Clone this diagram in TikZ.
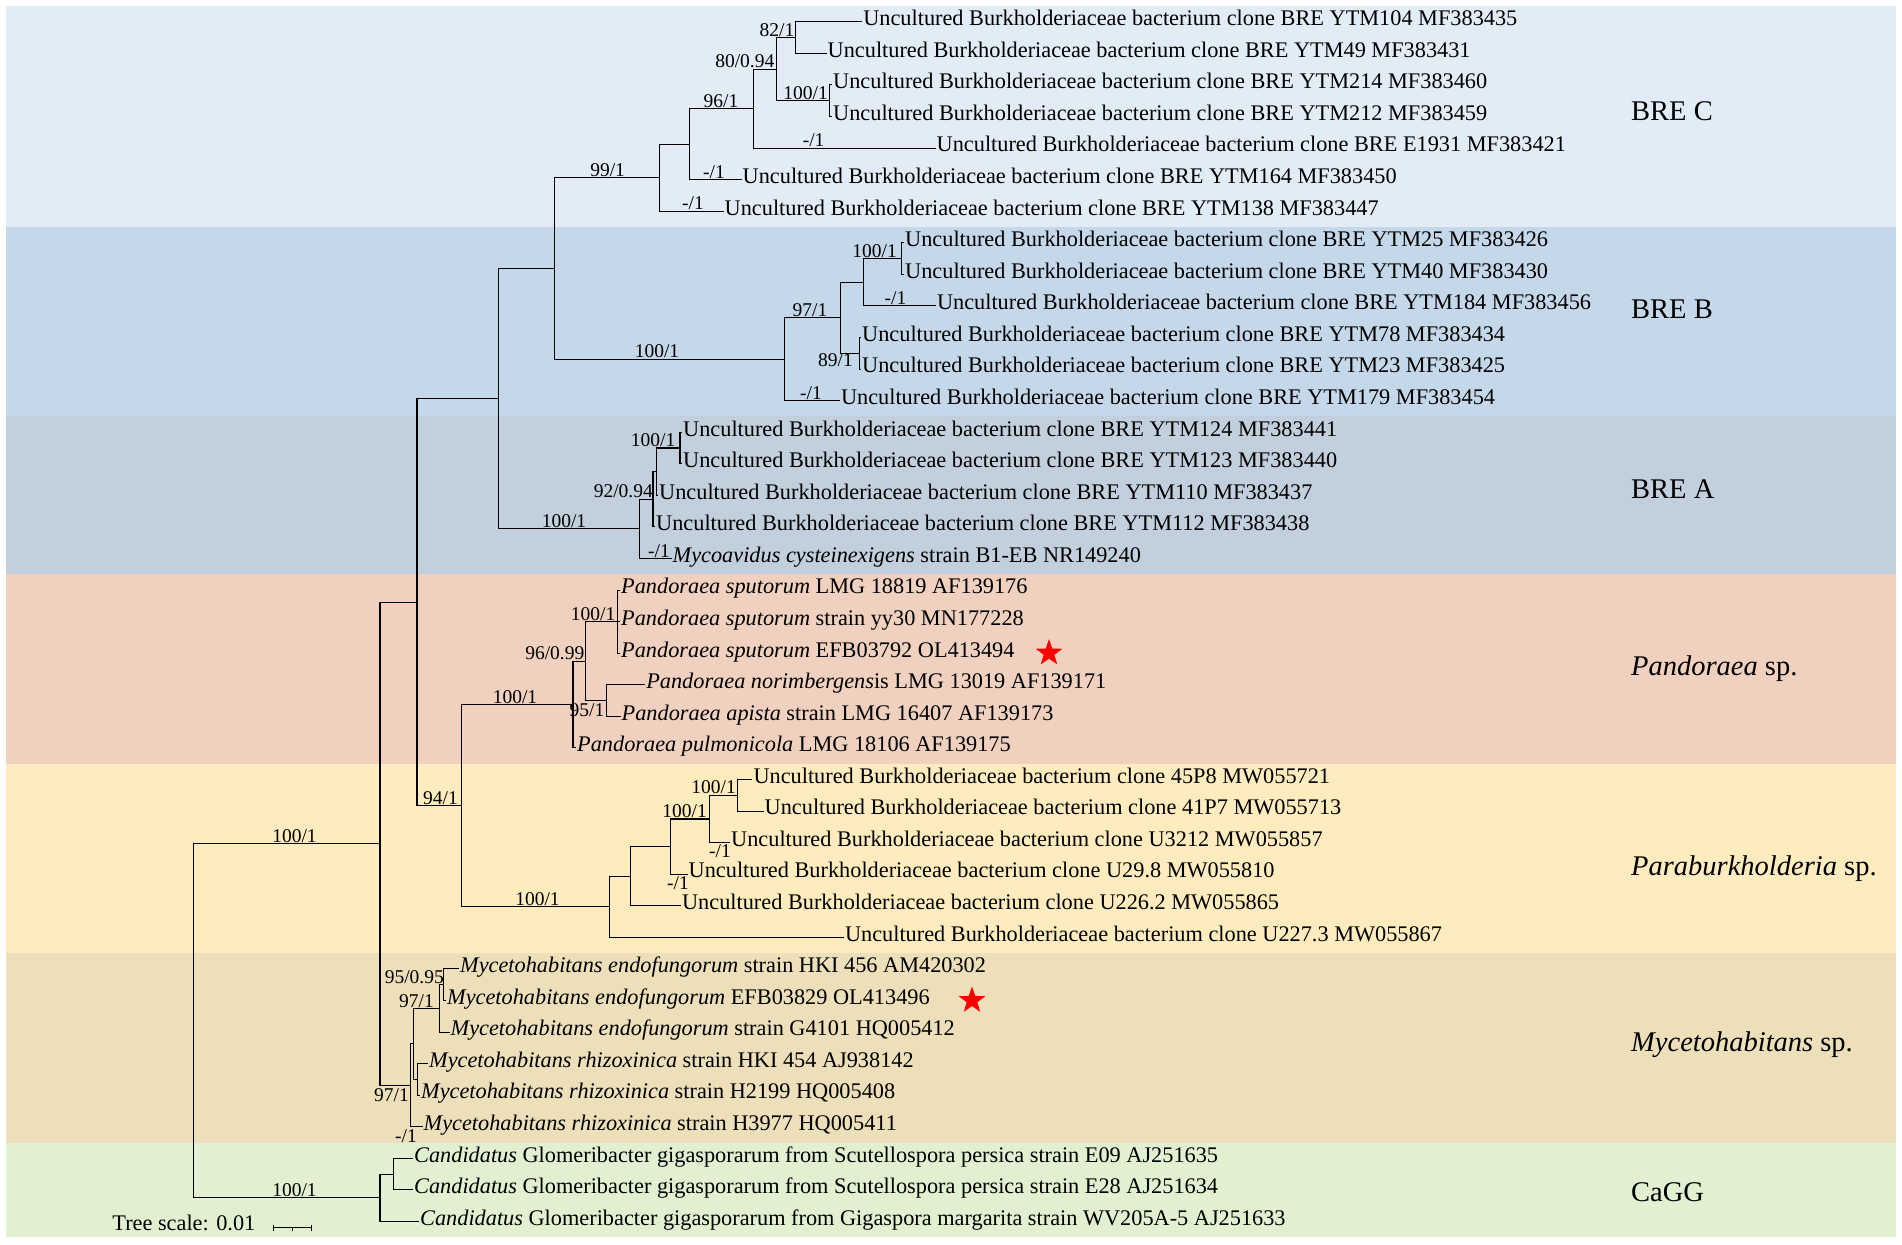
\documentclass[tikz,border=0pt]{standalone}
\usepackage{fontspec}
\setmainfont{Liberation Serif}
\usetikzlibrary{shapes.geometric}

\definecolor{bandC}{RGB}{226,236,246}
\definecolor{bandB}{RGB}{197,216,234}
\definecolor{bandA}{RGB}{194,207,220}
\definecolor{bandP}{RGB}{240,209,191}
\definecolor{bandPa}{RGB}{254,236,190}
\definecolor{bandM}{RGB}{237,223,186}
\definecolor{bandCa}{RGB}{224,240,208}

\begin{document}
\begin{tikzpicture}[x=1pt, y=-1pt,
  branch/.style={line width=1.1pt, line cap=rect},
  leaf/.style={anchor=mid west, inner sep=1.5pt, yshift=-1.5pt, font=\fontsize{22.3}{26}\selectfont},
  sup/.style={inner sep=1pt, font=\fontsize{19.5}{23}\selectfont},
  clade/.style={anchor=base west, inner sep=0pt, font=\fontsize{28.5}{34}\selectfont},
  mark star/.style={star, star points=5, star point ratio=2.5, fill=red, inner sep=0pt, minimum size=28pt}]

\useasboundingbox (0,0) rectangle (1902,1244);

% clade bands
\foreach \top/\bot/\col in {6/227/bandC, 227/416.4/bandB, 416.4/574.3/bandA, 574.3/763.8/bandP,
  763.8/953.1/bandPa, 953.1/1142.5/bandM, 1142.5/1237.2/bandCa}
  \fill[\col] (6,\top) rectangle (1896,\bot);

% leaf tips
\foreach \i/\tx in {0/861.6, 1/826, 2/831.5, 3/831.5, 4/935, 5/741, 6/723,
  7/903.5, 8/903.5, 9/935.3, 10/860.5, 11/860.5, 12/839.3,
  13/681.5, 14/681.5, 15/657.5, 16/654.5, 17/671,
  18/619.5, 19/619.5, 20/619.5, 21/644.6, 22/620, 23/575.5,
  24/751.8, 25/763, 26/729.5, 27/687, 28/680.4, 29/843.3,
  30/458.5, 31/445.5, 32/449, 33/427.5, 34/419.5, 35/422,
  36/412.5, 37/412.5, 38/418.5}
  \coordinate (l\i) at (\tx,{21.8+31.57*\i});

% inner nodes
\coordinate (root) at (193.3,1020.8);
\coordinate (nbig) at (380,843.7);
\coordinate (nCa) at (380,1197.8);
\coordinate (nCa2) at (393.3,1174.1);
\coordinate (nIn) at (417,602.1);
\coordinate (nABC) at (498.2,398.7);
\coordinate (nBC) at (554.5,268.5);
\coordinate (n99) at (659.8,177.7);
\coordinate (n96a) at (689.7,144.1);
\coordinate (nC3) at (753.6,108.6);
\coordinate (n80) at (776.8,69.2);
\coordinate (n82) at (795.5,37.6);
\coordinate (n100c) at (829.5,100.7);
\coordinate (nB) at (784.8,359.2);
\coordinate (n97) at (840.2,317.8);
\coordinate (nx) at (863.8,282.2);
\coordinate (n100b) at (901.8,258.6);
\coordinate (n89) at (859.4,353.3);
\coordinate (nA) at (639.7,528.9);
\coordinate (n92) at (653,499.3);
\coordinate (ny) at (656.3,471.7);
\coordinate (n100a) at (680,448);
\coordinate (n94) at (461.6,805.6);
\coordinate (nPand) at (573,704.5);
\coordinate (n96P) at (585.7,661.1);
\coordinate (n100P) at (617.9,621.6);
\coordinate (n95) at (606.7,700.6);
\coordinate (nPara) at (609.8,906.8);
\coordinate (nq) at (630.4,876.2);
\coordinate (nr) at (670.5,846.6);
\coordinate (n100p1) at (709.4,819);
\coordinate (n100p2) at (737.5,795.3);
\coordinate (nM) at (410.7,1085.3);
\coordinate (nMa) at (413.8,1043.9);
\coordinate (nE) at (439.3,1008.4);
\coordinate (nE2) at (443.8,984.7);
\coordinate (nR) at (417.5,1079.4);

% branches
\foreach \p/\c in {root/nbig, root/nCa, nCa/nCa2, nCa/l38, nCa2/l36, nCa2/l37,
  nbig/nIn, nbig/nM, nIn/nABC, nIn/n94, nABC/nBC, nABC/nA,
  nBC/n99, nBC/nB, n99/n96a, n99/l6, n96a/nC3, n96a/l5, nC3/n80, nC3/l4,
  n80/n82, n80/n100c, n82/l0, n82/l1, n100c/l2, n100c/l3,
  nB/n97, nB/l12, n97/nx, n97/n89, nx/n100b, nx/l9, n100b/l7, n100b/l8,
  n89/l10, n89/l11, nA/n92, nA/l17, n92/ny, n92/l16, ny/n100a, ny/l15,
  n100a/l13, n100a/l14, n94/nPand, n94/nPara, nPand/n96P, nPand/l23,
  n96P/n100P, n96P/n95, n100P/l18, n100P/l19, n100P/l20, n95/l21, n95/l22,
  nPara/nq, nPara/l29, nq/nr, nq/l28, nr/n100p1, nr/l27,
  n100p1/n100p2, n100p1/l26, n100p2/l24, n100p2/l25,
  nM/nMa, nM/l35, nMa/nE, nMa/nR, nE/nE2, nE/l32, nE2/l30, nE2/l31,
  nR/l33, nR/l34}
  \draw[branch] (\p) |- (\c);

% leaf names
\node[leaf] (t0) at (l0) {Uncultured Burkholderiaceae bacterium clone BRE YTM104 MF383435};
\node[leaf] (t1) at (l1) {Uncultured Burkholderiaceae bacterium clone BRE YTM49 MF383431};
\node[leaf] (t2) at (l2) {Uncultured Burkholderiaceae bacterium clone BRE YTM214 MF383460};
\node[leaf] (t3) at (l3) {Uncultured Burkholderiaceae bacterium clone BRE YTM212 MF383459};
\node[leaf] (t4) at (l4) {Uncultured Burkholderiaceae bacterium clone BRE E1931 MF383421};
\node[leaf] (t5) at (l5) {Uncultured Burkholderiaceae bacterium clone BRE YTM164 MF383450};
\node[leaf] (t6) at (l6) {Uncultured Burkholderiaceae bacterium clone BRE YTM138 MF383447};
\node[leaf] (t7) at (l7) {Uncultured Burkholderiaceae bacterium clone BRE YTM25 MF383426};
\node[leaf] (t8) at (l8) {Uncultured Burkholderiaceae bacterium clone BRE YTM40 MF383430};
\node[leaf] (t9) at (l9) {Uncultured Burkholderiaceae bacterium clone BRE YTM184 MF383456};
\node[leaf] (t10) at (l10) {Uncultured Burkholderiaceae bacterium clone BRE YTM78 MF383434};
\node[leaf] (t11) at (l11) {Uncultured Burkholderiaceae bacterium clone BRE YTM23 MF383425};
\node[leaf] (t12) at (l12) {Uncultured Burkholderiaceae bacterium clone BRE YTM179 MF383454};
\node[leaf] (t13) at (l13) {Uncultured Burkholderiaceae bacterium clone BRE YTM124 MF383441};
\node[leaf] (t14) at (l14) {Uncultured Burkholderiaceae bacterium clone BRE YTM123 MF383440};
\node[leaf] (t15) at (l15) {Uncultured Burkholderiaceae bacterium clone BRE YTM110 MF383437};
\node[leaf] (t16) at (l16) {Uncultured Burkholderiaceae bacterium clone BRE YTM112 MF383438};
\node[leaf] (t17) at (l17) {\textit{Mycoavidus cysteinexigens} strain B1-EB NR149240};
\node[leaf] (t18) at (l18) {\textit{Pandoraea sputorum} LMG 18819 AF139176};
\node[leaf] (t19) at (l19) {\textit{Pandoraea sputorum} strain yy30 MN177228};
\node[leaf] (t20) at (l20) {\textit{Pandoraea sputorum} EFB03792 OL413494};
\node[leaf] (t21) at (l21) {\textit{Pandoraea norimbergens}is LMG 13019 AF139171};
\node[leaf] (t22) at (l22) {\textit{Pandoraea apista} strain LMG 16407 AF139173};
\node[leaf] (t23) at (l23) {\textit{Pandoraea pulmonicola} LMG 18106 AF139175};
\node[leaf] (t24) at (l24) {Uncultured Burkholderiaceae bacterium clone 45P8 MW055721};
\node[leaf] (t25) at (l25) {Uncultured Burkholderiaceae bacterium clone 41P7 MW055713};
\node[leaf] (t26) at (l26) {Uncultured Burkholderiaceae bacterium clone U3212 MW055857};
\node[leaf] (t27) at (l27) {Uncultured Burkholderiaceae bacterium clone U29.8 MW055810};
\node[leaf] (t28) at (l28) {Uncultured Burkholderiaceae bacterium clone U226.2 MW055865};
\node[leaf] (t29) at (l29) {Uncultured Burkholderiaceae bacterium clone U227.3 MW055867};
\node[leaf] (t30) at (l30) {\textit{Mycetohabitans endofungorum} strain HKI 456 AM420302};
\node[leaf] (t31) at (l31) {\textit{Mycetohabitans endofungorum} EFB03829 OL413496};
\node[leaf] (t32) at (l32) {\textit{Mycetohabitans endofungorum} strain G4101 HQ005412};
\node[leaf] (t33) at (l33) {\textit{Mycetohabitans rhizoxinica} strain HKI 454 AJ938142};
\node[leaf] (t34) at (l34) {\textit{Mycetohabitans rhizoxinica} strain H2199 HQ005408};
\node[leaf] (t35) at (l35) {\textit{Mycetohabitans rhizoxinica} strain H3977 HQ005411};
\node[leaf] (t36) at (l36) {\textit{Candidatus} Glomeribacter gigasporarum from Scutellospora persica strain E09 AJ251635};
\node[leaf] (t37) at (l37) {\textit{Candidatus} Glomeribacter gigasporarum from Scutellospora persica strain E28 AJ251634};
\node[leaf] (t38) at (l38) {\textit{Candidatus} Glomeribacter gigasporarum from Gigaspora margarita strain WV205A-5 AJ251633};

% support values
\node[sup, anchor=south] (s1) at (607.6,177.7) {99/1};
\node[sup, anchor=south] (s2) at (721,108.6) {96/1};
\node[sup, anchor=south east] (s3) at (775.5,69.2) {80/0.94};
\node[sup, anchor=south east] (s4) at (795.5,37.6) {82/1};
\node[sup, anchor=south east] (s5) at (829,100.7) {100/1};
\node[sup, anchor=south] (s6) at (813.6,148.1) {-/1};
\node[sup, anchor=south] (s7) at (714,179.6) {-/1};
\node[sup, anchor=south] (s8) at (693,211.2) {-/1};
\node[sup, anchor=south] (s9) at (657,359.2) {100/1};
\node[sup, anchor=south] (s10) at (810,317.8) {97/1};
\node[sup, anchor=south east] (s11) at (898,258.6) {100/1};
\node[sup, anchor=south] (s12) at (895.5,305.9) {-/1};
\node[sup, anchor=north east] (s13) at (854,352) {89/1};
\node[sup, anchor=south] (s14) at (811,400.6) {-/1};
\node[sup, anchor=south] (s15) at (564,528.9) {100/1};
\node[sup, anchor=south east] (s16) at (654,499.3) {92/0.94};
\node[sup, anchor=south east] (s17) at (676.5,448) {100/1};
\node[sup, anchor=south] (s18) at (659,558.5) {-/1};
\node[sup, anchor=south] (s19) at (515,704.5) {100/1};
\node[sup, anchor=south east] (s20) at (585.5,661.1) {96/0.99};
\node[sup, anchor=south east] (s21) at (616.5,621.6) {100/1};
\node[sup, anchor=north east] (s22) at (605.5,702) {95/1};
\node[sup, anchor=south] (s23) at (440.5,805.6) {94/1};
\node[sup, anchor=south] (s24) at (537.5,906.8) {100/1};
\node[sup, anchor=south east] (s25) at (708,819) {100/1};
\node[sup, anchor=south east] (s26) at (737,795.3) {100/1};
\node[sup, anchor=north] (s27) at (720,843.5) {-/1};
\node[sup, anchor=north] (s28) at (678,875) {-/1};
\node[sup, anchor=south east] (s29) at (445,984.7) {95/0.95};
\node[sup, anchor=south east] (s30) at (435,1008.4) {97/1};
\node[sup, anchor=north east] (s31) at (410,1087) {97/1};
\node[sup, anchor=north east] (s32) at (418,1128) {-/1};
\node[sup, anchor=south] (s33) at (294.5,843.7) {100/1};
\node[sup, anchor=south] (s34) at (294.5,1197.8) {100/1};

% our isolates
\node[mark star] (star1) at (1049,653.1) {};
\node[mark star] (star2) at (972,1000.5) {};

% clade names
\node[clade] (cC) at (1631,121) {BRE C};
\node[clade] (cB) at (1631,318.5) {BRE B};
\node[clade] (cA) at (1631,498.5) {BRE A};
\node[clade] (cP) at (1631,675.5) {\textit{Pandoraea} sp.};
\node[clade] (cPa) at (1631,875.5) {\textit{Paraburkholderia} sp.};
\node[clade] (cM) at (1631,1051.5) {\textit{Mycetohabitans} sp.};
\node[clade] (cCa) at (1631,1201.5) {CaGG};

% scale bar
\coordinate (sb1) at (273,1227.7);
\coordinate (sb2) at (311.7,1227.7);
\coordinate (sbm) at (292.4,1227.7);
\draw[line width=0.9pt] (sb1) -- (sb2);
\draw[line width=0.9pt] (sb1) ++(0,-3) -- ++(0,6);
\draw[line width=0.9pt] (sb2) ++(0,-3) -- ++(0,6);
\draw[line width=0.9pt] (sbm) -- ++(0,3);
\node[leaf, anchor=mid east] (scale) at (257,1227) {Tree scale: 0.01};
\end{tikzpicture}
\end{document}
